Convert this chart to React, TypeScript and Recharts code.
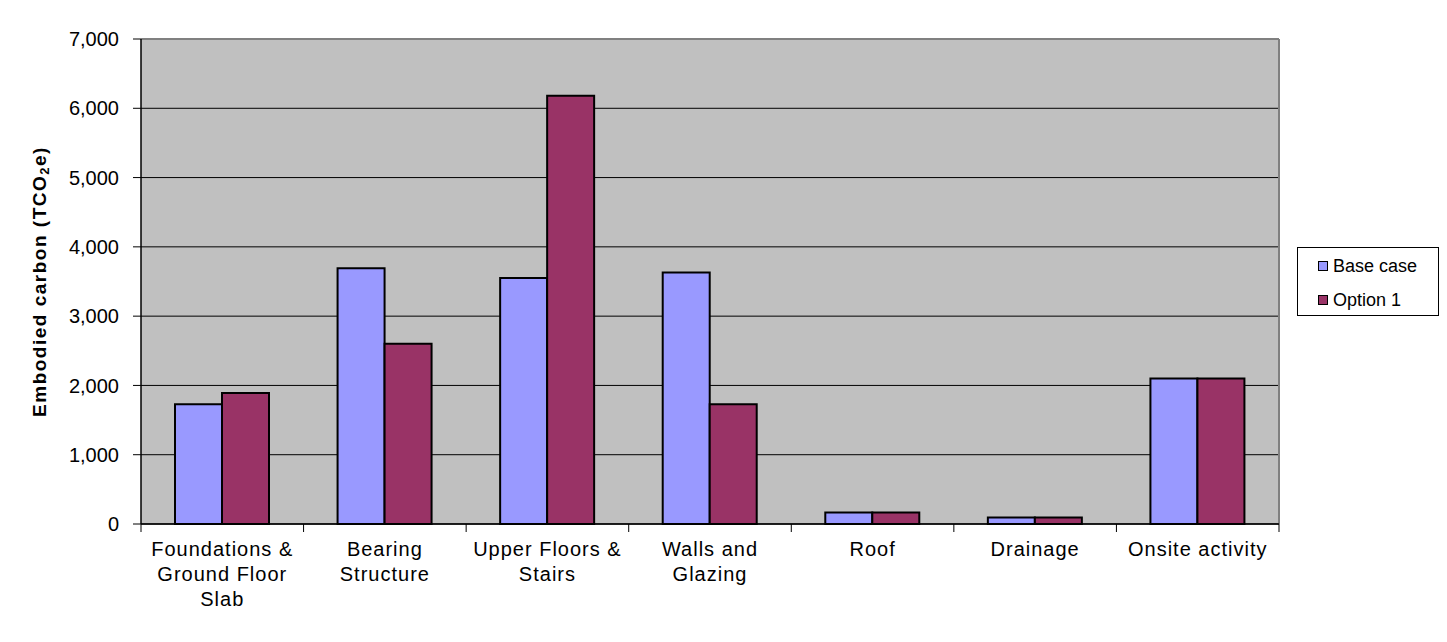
import React from 'react';
import { BarChart, Bar, XAxis, YAxis, CartesianGrid, Legend, Label } from 'recharts';

const categories = [
  'Foundations & Ground Floor Slab',
  'Bearing Structure',
  'Upper Floors & Stairs',
  'Walls and Glazing',
  'Roof',
  'Drainage',
  'Onsite activity',
];
const categoryLines = [
  ['Foundations &', 'Ground Floor', 'Slab'],
  ['Bearing', 'Structure'],
  ['Upper Floors &', 'Stairs'],
  ['Walls and', 'Glazing'],
  ['Roof'],
  ['Drainage'],
  ['Onsite activity'],
];
const baseCase = [1730, 3690, 3550, 3630, 165, 95, 2100];
const option1 = [1890, 2600, 6180, 1730, 165, 95, 2100];
const yTicks = [0, 1000, 2000, 3000, 4000, 5000, 6000, 7000];

const data = categories.map((c, i) => ({ name: c, base: baseCase[i], opt: option1[i] }));

const FONT = 'Liberation Sans, Arial, sans-serif';

const CatTick = (props: any) => {
  const { x, y, payload, index, visibleTicksCount } = props;
  const half = payload.offset || 0;
  const axisY = y - 8;
  const lines = categoryLines[index] || [String(payload.value)];
  return (
    <g>
      <line x1={x - half} x2={x - half} y1={axisY} y2={axisY + 8} stroke="#000" strokeWidth={1} />
      {index === visibleTicksCount - 1 && (
        <line x1={x + half} x2={x + half} y1={axisY} y2={axisY + 8} stroke="#000" strokeWidth={1} />
      )}
      <text x={x} y={y} textAnchor="middle" fontFamily={FONT} fontSize={20} letterSpacing={1} fill="#000">
        {lines.map((l, i) => (
          <tspan key={i} x={x} dy={i === 0 ? 24 : 25}>{l}</tspan>
        ))}
      </text>
    </g>
  );
};

const YLabel = (props: any) => {
  const vb = props.viewBox || { x: 0, y: 0, width: 0, height: 0 };
  const cx = vb.x + 31;
  const cy = vb.y + vb.height / 2;
  return (
    <text
      x={cx}
      y={cy}
      transform={`rotate(-90 ${cx} ${cy})`}
      textAnchor="middle"
      dominantBaseline="central"
      fontFamily={FONT}
      fontWeight="bold"
      fontSize={19}
      letterSpacing={1.5}
      fill="#000"
    >
      Embodied carbon (TCO<tspan fontSize={13} dy={5}>2</tspan><tspan dy={-5}>e)</tspan>
    </text>
  );
};

const LegendBox = () => {
  const items = [
    { label: 'Base case', color: '#9999FF' },
    { label: 'Option 1', color: '#993366' },
  ];
  return (
    <div
      style={{
        width: 140,
        height: 67,
        border: '1px solid #000',
        background: '#fff',
        boxSizing: 'content-box',
        position: 'relative',
        fontFamily: FONT,
        fontSize: 18,
      }}
    >
      {items.map((it, i) => (
        <div key={it.label} style={{ position: 'absolute', left: 20, top: 7 + i * 34, height: 22, display: 'flex', alignItems: 'center' }}>
          <span style={{ display: 'inline-block', width: 8, height: 8, background: it.color, border: '1.5px solid #000', marginRight: 5 }} />
          <span style={{ color: '#000', lineHeight: '22px' }}>{it.label}</span>
        </div>
      ))}
    </div>
  );
};

export default function App() {
  return (
    <div style={{ width: 1439, height: 634 }}>
      <BarChart
        width={1439}
        height={634}
        data={data}
        margin={{ top: 31, right: 26, left: 0, bottom: 28 }}
        barCategoryGap={34}
        barGap={0}
      >
        <CartesianGrid vertical={false} stroke="#000" strokeWidth={1} fill="#C0C0C0" fillOpacity={1} />
        <CartesianGrid
          stroke="#808080"
          strokeWidth={2}
          horizontalCoordinatesGenerator={({ offset }: any) => [offset.top]}
          verticalCoordinatesGenerator={({ offset }: any) => [offset.left + offset.width]}
        />
        <XAxis
          dataKey="name"
          height={90}
          axisLine={{ stroke: '#000', strokeWidth: 1.5 }}
          tickLine={false}
          tickSize={8}
          tickMargin={0}
          tick={<CatTick />}
          interval={0}
        />
        <YAxis
          domain={[0, 7000]}
          ticks={yTicks}
          width={133}
          axisLine={{ stroke: '#000', strokeWidth: 1.5 }}
          tickLine={{ stroke: '#000', strokeWidth: 1 }}
          tickSize={8}
          tickMargin={14}
          tick={{ fontFamily: FONT, fontSize: 20, fill: '#000' }}
          tickFormatter={(v: number) => v.toLocaleString('en-US')}
        >
          <Label content={<YLabel />} />
        </YAxis>
        <Legend
          content={<LegendBox />}
          layout="vertical"
          verticalAlign="top"
          align="right"
          wrapperStyle={{ position: 'absolute', left: 1289, top: 239, width: 142, height: 69 }}
        />
        <Bar dataKey="base" name="Base case" fill="#9999FF" stroke="#000" strokeWidth={2} isAnimationActive={false} />
        <Bar dataKey="opt" name="Option 1" fill="#993366" stroke="#000" strokeWidth={2} isAnimationActive={false} />
      </BarChart>
    </div>
  );
}
